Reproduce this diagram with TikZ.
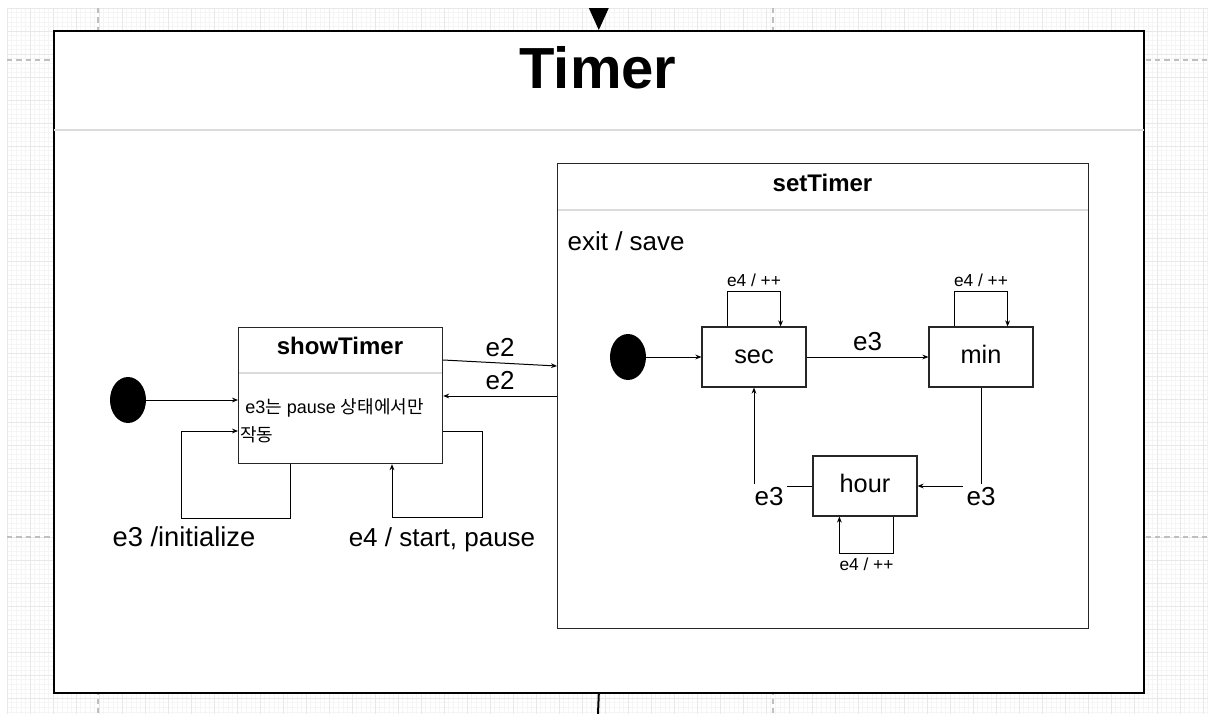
\documentclass[tikz,border=0pt]{standalone}
\usepackage{fontspec}
\setmainfont{Liberation Sans}
\newfontfamily\krfont{Noto Sans CJK KR}
\usepackage{tikz}
\usetikzlibrary{arrows.meta, positioning, shapes.geometric, calc}

\begin{document}
\begin{tikzpicture}[
    x=0.75pt, y=-0.75pt,
    gridminor/.style={draw=black!4, line width=0.4pt},
    gridmajor/.style={draw=black!9, line width=0.5pt},
    pagebreak/.style={draw=black!25, line width=0.8pt, dash pattern=on 4pt off 3pt},
    timerbox/.style={draw=black, fill=white, line width=1.2pt, anchor=north west, inner sep=0pt},
    compound/.style={draw=black!85, fill=white, line width=0.9pt, anchor=north west, inner sep=0pt},
    divider/.style={draw=black!14, line width=1.2pt},
    statebox/.style={draw=black!85, fill=white, line width=0.9pt, minimum width=78pt, minimum height=45pt, inner sep=0pt, text height=10pt, text depth=0pt, font=\fontsize{19}{21}\selectfont},
    startdot/.style={ellipse, fill=black, minimum width=27pt, minimum height=34.5pt, inner sep=0pt},
    trans/.style={-{Stealth[length=4.5pt, width=3.6pt]}, line width=0.75pt},
    lbl/.style={font=\fontsize{19.5}{22}\selectfont, inner sep=1pt},
    elbow/.style={lbl, fill=white, inner sep=3pt},
    loopnote/.style={font=\fontsize{13}{15}\selectfont, inner sep=1pt},
    boxtitle/.style={font=\bfseries\fontsize{18}{20}\selectfont},
]
  \useasboundingbox (0,0) rectangle (1208,714);
  \foreach \i in {0,...,261} \draw[gridminor] ({7+4.6*\i},8) -- ({7+4.6*\i},714);
  \foreach \j in {0,...,153} \draw[gridminor] (7,{8+4.6*\j}) -- (1208,{8+4.6*\j});
  \foreach \i in {0,...,52} \draw[gridmajor] ({7+23*\i},8) -- ({7+23*\i},714);
  \foreach \j in {0,...,30} \draw[gridmajor] (7,{8+23*\j}) -- (1208,{8+23*\j});
  \foreach \px in {98,773} \draw[pagebreak] (\px,8) -- (\px,714);
  \foreach \py in {60,537} \draw[pagebreak] (7,\py) -- (1208,\py);

  \node[timerbox, minimum width=817.5pt, minimum height=496.5pt] (timer) at (53,30) {};
  \node[font=\bfseries\fontsize{43.5}{48}\selectfont] (timerTitle) at (598,68) {Timer};
  \draw[divider] ($(timer.north west)+(1,100)$) -- ($(timer.north east)+(-1,100)$);
  \coordinate (exit) at (598,714);
  \fill ($(timer.north)+(-10,-22)$) -- ($(timer.north)+(10,-22)$) -- (timer.north) -- cycle;
  \draw[line width=1.5pt] (timer.south) -- (exit);

  \node[compound, minimum width=398.25pt, minimum height=348.75pt] (setTimer) at (557,163) {};
  \node[boxtitle] (setTitle) at (822.5,183) {setTimer};
  \draw[divider] ($(setTimer.north west)+(1,47)$) -- ($(setTimer.north east)+(-1,47)$);
  \node[lbl, anchor=west] (exitSave) at (566,241) {exit / save};

  \node[compound, minimum width=153pt, minimum height=102pt] (showTimer) at (238,327) {};
  \node[boxtitle] (showTitle) at (340,346) {showTimer};
  \draw[divider] ($(showTimer.north west)+(1,46)$) -- ($(showTimer.north east)+(-1,46)$);
  \node[font=\fontsize{13.5}{21}\selectfont, anchor=north west, align=left, inner sep=0pt] (showNote) at (240,398) {\ e3{\krfont 는} pause {\krfont 상태에서만}\\{\krfont 작동}};

  \node[startdot] (showStart) at (128,400) {};
  \node[startdot] (setStart) at (628,357) {};

  \node[statebox] (sec) at (754,357) {sec};
  \node[statebox] (min) at (981,357) {min};
  \node[statebox] (hour) at (865,486) {hour};

  \draw[trans] (showStart.east) -- (showStart.east -| showTimer.west);
  \draw[trans] ($(showTimer.south west)+(52,0)$) |- ++(-109,54) |- ($(showTimer.north west)+(0,104)$);
  \node[lbl, anchor=base, font=\fontsize{20.5}{22}\selectfont] (initLbl) at (184,546) {e3 /initialize};
  \draw[trans] ($(showTimer.north east)+(0,104)$) -| ++(39,86) -| ($(showTimer.south west)+(154,0)$);
  \node[lbl, anchor=base] (startLbl) at (442,546) {e4 / start, pause};

  \draw[trans] ($(showTimer.north east)+(0,33)$) -- node[lbl, above=3pt] (e2Go) {e2} ($(setTimer.north west)+(0,203)$);
  \draw[trans] ($(setTimer.north west)+(0,233)$) -- node[lbl, above=3pt] (e2Back) {e2} ($(showTimer.north east)+(0,69)$);

  \draw[trans] (setStart) -- (sec);
  \draw[trans] (sec) -- node[lbl, above=3pt] (secMin) {e3} (min);
  \draw[trans] (min.south) |- node[elbow, pos=0.5, yshift=-8.25pt] (minHour) {e3} (hour.east);
  \draw[trans] (hour.west) -| node[elbow, pos=0.5, xshift=11.25pt, yshift=-8.25pt] (hourSec) {e3} (sec.south);

  \draw[trans] ($(sec.north west)+(26,0)$) -- ++(0,-35) -| node[loopnote, pos=0.25, above=2pt] (secInc) {e4 / ++} ($(sec.north east)+(-26,0)$);
  \draw[trans] ($(min.north west)+(26,0)$) -- ++(0,-35) -| node[loopnote, pos=0.25, above=2pt] (minInc) {e4 / ++} ($(min.north east)+(-26,0)$);
  \draw[trans] ($(hour.south east)+(-24,0)$) -- ++(0,37) -| node[loopnote, pos=0.25, below=2pt] (hourInc) {e4 / ++} ($(hour.south west)+(27,0)$);
\end{tikzpicture}
\end{document}
